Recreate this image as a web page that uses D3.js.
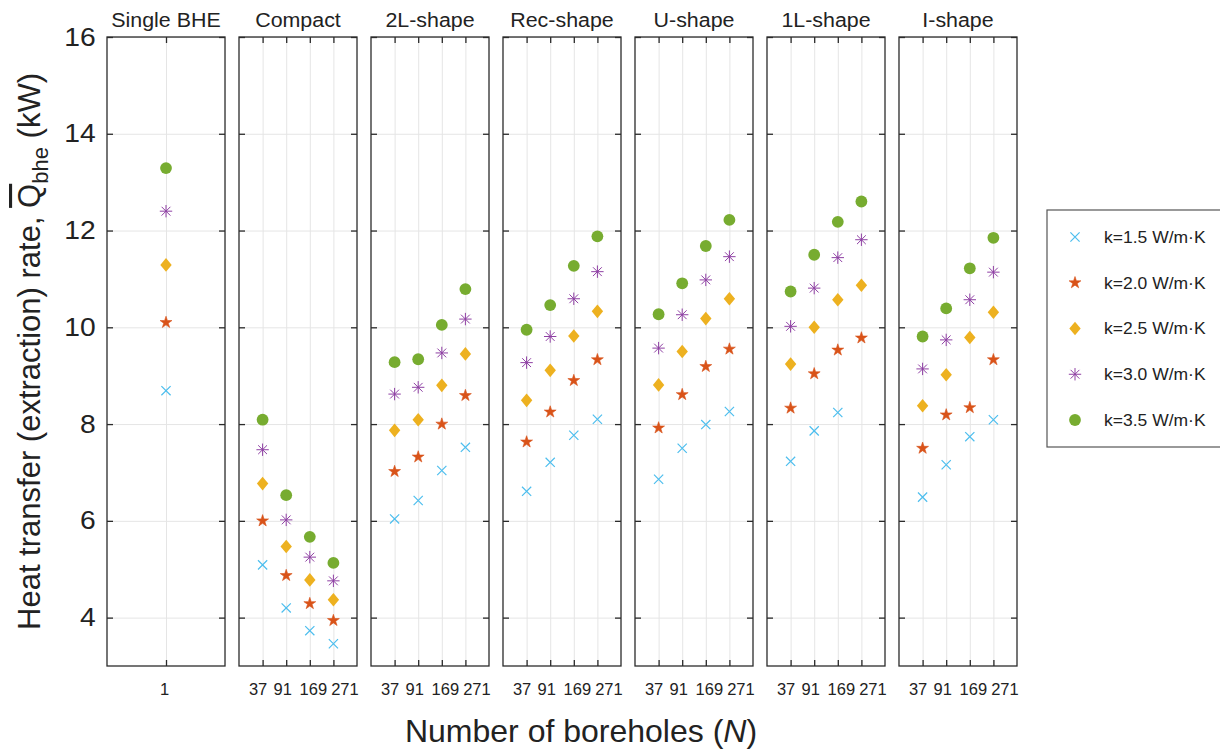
<!DOCTYPE html>
<html>
<head>
<meta charset="utf-8">
<script src="https://cdn.jsdelivr.net/npm/d3@7"></script>
<style>
  body { margin: 0; background: #fff; }
  svg text { font-family: "Liberation Sans", Arial, Helvetica, sans-serif; fill: #222; }
</style>
</head>
<body>
<svg id="chart"></svg>
<script>
'use strict';

// ---- data ----
var shapes = ['Single BHE', 'Compact', '2L-shape', 'Rec-shape', 'U-shape', '1L-shape', 'I-shape'];
var singleTicks = ['1'];
var boreholeTicks = ['37', '91', '169', '271'];
var yTicks = [4, 6, 8, 10, 12, 14, 16];
var kLabels = ['k=1.5 W/m·K', 'k=2.0 W/m·K', 'k=2.5 W/m·K', 'k=3.0 W/m·K', 'k=3.5 W/m·K'];

// one entry per panel, values in kW (null = not drawn)
var k15 = [[8.69], [5.09, 4.20, 3.73, 3.46], [6.04, 6.42, 7.04, 7.52], [6.61, 7.21, 7.77, 8.10],
           [6.86, 7.50, 7.99, 8.26], [7.23, 7.86, 8.24, null], [6.49, 7.16, 7.74, 8.09]];
var k20 = [[10.10], [6.00, 4.87, 4.29, 3.94], [7.02, 7.32, 8.00, 8.59], [7.63, 8.25, 8.90, 9.33],
           [7.92, 8.61, 9.19, 9.55], [8.33, 9.04, 9.53, 9.78], [7.50, 8.19, 8.34, 9.33]];
var k25 = [[11.29], [6.77, 5.47, 4.78, 4.37], [7.87, 8.09, 8.80, 9.45], [8.49, 9.11, 9.82, 10.33],
           [8.81, 9.50, 10.18, 10.59], [9.24, 10.00, 10.57, 10.87], [8.38, 9.02, 9.79, 10.31]];
var k30 = [[12.40], [7.47, 6.02, 5.25, 4.76], [8.62, 8.76, 9.47, 10.17], [9.27, 9.81, 10.59, 11.15],
           [9.57, 10.26, 10.98, 11.46], [10.02, 10.81, 11.44, 11.81], [9.14, 9.74, 10.57, 11.14]];
var k35 = [[13.29], [8.09, 6.53, 5.67, 5.13], [9.28, 9.34, 10.05, 10.79], [9.95, 10.46, 11.27, 11.88],
           [10.27, 10.91, 11.68, 12.22], [10.74, 11.50, 12.18, 12.60], [9.81, 10.39, 11.22, 11.85]];

var series = [k15, k20, k25, k30, k35];
var markerTypes = ['cross', 'star', 'diamond', 'asterisk', 'circle'];
var colors = ['#4DBEEE', '#D95319', '#EDB120', '#8E3FA3', '#77AC30'];

// ---- layout ----
var canvasWidth = 1220;
var canvasHeight = 751;
var plotTop = 37, plotBottom = 666, plotLeft = 107, plotRight = 1017;
var axisColor = '#2b2b2b';
var gridColor = '#e5e5e5';

var svg = d3.select('#chart')
  .attr('width', canvasWidth)
  .attr('height', canvasHeight);

svg.append('rect').attr('width', canvasWidth).attr('height', canvasHeight).attr('fill', '#fff');

var yScale = d3.scaleLinear().domain([3, 16]).range([plotBottom, plotTop]);
var panelScale = d3.scaleBand().domain(shapes).range([plotLeft, plotRight]).paddingInner(0.106);
var bw = panelScale.bandwidth();

// labels under the 4-tick panels sit a bit off the ticks in the original
var labelNudge = [-5, -4, 3, 11];

function drawMarker(sel, type, color) {
  if (type === 'cross') {
    sel.append('path').attr('d', 'M-4.6,-4.6L4.6,4.6M-4.6,4.6L4.6,-4.6')
      .attr('stroke', color).attr('stroke-width', 1.2).attr('fill', 'none');
  } else if (type === 'star') {
    sel.append('path').attr('d', d3.symbol().type(d3.symbolStar).size(44)())
      .attr('fill', color).attr('stroke', color).attr('stroke-width', 0.6);
  } else if (type === 'diamond') {
    sel.append('path').attr('d', 'M0,-6.8L5.7,0L0,6.8L-5.7,0Z').attr('fill', color);
  } else if (type === 'asterisk') {
    sel.append('path').attr('d', 'M0,-6.2V6.2M-6.2,0H6.2M-4.4,-4.4L4.4,4.4M-4.4,4.4L4.4,-4.4')
      .attr('stroke', color).attr('stroke-width', 1).attr('fill', 'none');
  } else {
    sel.append('circle').attr('r', 5.9).attr('fill', color);
  }
}

shapes.forEach(function(name, p) {
  var labels = p === 0 ? singleTicks : boreholeTicks;
  var xIdx = d3.range(1, labels.length + 1);
  var xScale = d3.scaleLinear().domain([0, labels.length + 1]).range([0, bw]);

  var panel = svg.append('g')
    .attr('transform', 'translate(' + panelScale(name) + ',0)');

  // grid
  var yGrid = panel.append('g')
    .call(d3.axisLeft(yScale).tickValues(yTicks).tickSize(-bw).tickFormat(''));
  var xGrid = panel.append('g')
    .attr('transform', 'translate(0,' + plotBottom + ')')
    .call(d3.axisBottom(xScale).tickValues(xIdx).tickSize(-(plotBottom - plotTop)).tickFormat(''));
  [yGrid, xGrid].forEach(function(g) {
    g.select('.domain').remove();
    g.selectAll('line').attr('stroke', gridColor).attr('stroke-width', 1);
  });

  // box
  panel.append('rect')
    .attr('x', 0).attr('y', plotTop)
    .attr('width', bw).attr('height', plotBottom - plotTop)
    .attr('fill', 'none').attr('stroke', axisColor).attr('stroke-width', 1.3);

  // y ticks (inward, both sides)
  var left = panel.append('g')
    .call(d3.axisLeft(yScale).tickValues(yTicks).tickSizeInner(-6).tickSizeOuter(0).tickPadding(10)
      .tickFormat(p === 0 ? d3.format('d') : ''));
  var right = panel.append('g')
    .attr('transform', 'translate(' + bw + ',0)')
    .call(d3.axisRight(yScale).tickValues(yTicks).tickSizeInner(-6).tickSizeOuter(0).tickFormat(''));

  // x ticks (inward, top and bottom)
  var bottom = panel.append('g')
    .attr('transform', 'translate(0,' + plotBottom + ')')
    .call(d3.axisBottom(xScale).tickValues(xIdx).tickSizeInner(-6).tickSizeOuter(0).tickPadding(17)
      .tickFormat(function(d) { return labels[d - 1]; }));
  var top = panel.append('g')
    .attr('transform', 'translate(0,' + plotTop + ')')
    .call(d3.axisTop(xScale).tickValues(xIdx).tickSizeInner(-6).tickSizeOuter(0).tickFormat(''));

  [left, right, bottom, top].forEach(function(g) {
    g.select('.domain').remove();
    g.selectAll('line').attr('stroke', axisColor).attr('stroke-width', 1.3);
    g.attr('font-family', null).attr('font-size', null);
  });
  // the original's lettering is slightly wide, so stretch it a little
  left.selectAll('text').attr('font-size', 25).attr('fill', '#222')
    .attr('transform', 'scale(1.13,1)');
  bottom.selectAll('text').attr('font-size', 16.5).attr('fill', '#222')
    .attr('dx', function(d, i) { return labels.length > 1 ? labelNudge[i] : -2; });

  // panel title
  panel.append('text')
    .attr('transform', 'translate(' + (bw / 2) + ',27) scale(1.07,1)')
    .attr('text-anchor', 'middle')
    .attr('font-size', 20)
    .text(name);

  // markers
  series.forEach(function(s, k) {
    s[p].forEach(function(v, j) {
      if (v === null) return;
      var m = panel.append('g')
        .attr('transform', 'translate(' + xScale(j + 1) + ',' + yScale(v) + ')');
      drawMarker(m, markerTypes[k], colors[k]);
    });
  });
});

// y axis title
var yTitle = svg.append('text')
  .attr('transform', 'translate(40,' + ((plotTop + plotBottom) / 2) + ') rotate(-90)')
  .attr('text-anchor', 'middle')
  .attr('font-size', 31);
yTitle.append('tspan').text('Heat transfer (extraction) rate, ');
yTitle.append('tspan').style('text-decoration', 'overline').text('Q');
yTitle.append('tspan').attr('font-size', 22).attr('dy', 8).text('bhe');
yTitle.append('tspan').attr('dy', -8).text(' (kW)');

// x axis title
var xTitle = svg.append('text')
  .attr('x', 581).attr('y', 742)
  .attr('text-anchor', 'middle')
  .attr('font-size', 32);
xTitle.append('tspan').text('Number of boreholes (');
xTitle.append('tspan').attr('font-style', 'italic').text('N');
xTitle.append('tspan').text(')');

// legend
var legend = svg.append('g');
legend.append('rect')
  .attr('x', 1047).attr('y', 210).attr('width', 200).attr('height', 237)
  .attr('fill', '#fff').attr('stroke', '#555').attr('stroke-width', 1.2);
var legendY = d3.scalePoint().domain(kLabels).range([237, 420]);
kLabels.forEach(function(lab, k) {
  var row = legend.append('g').attr('transform', 'translate(0,' + legendY(lab) + ')');
  drawMarker(row.append('g').attr('transform', 'translate(1075,0)'), markerTypes[k], colors[k]);
  row.append('text')
    .attr('transform', 'translate(1104,0) scale(1.06,1)')
    .attr('dy', '0.36em')
    .attr('font-size', 16.5)
    .text(lab);
});
</script>
</body>
</html>
